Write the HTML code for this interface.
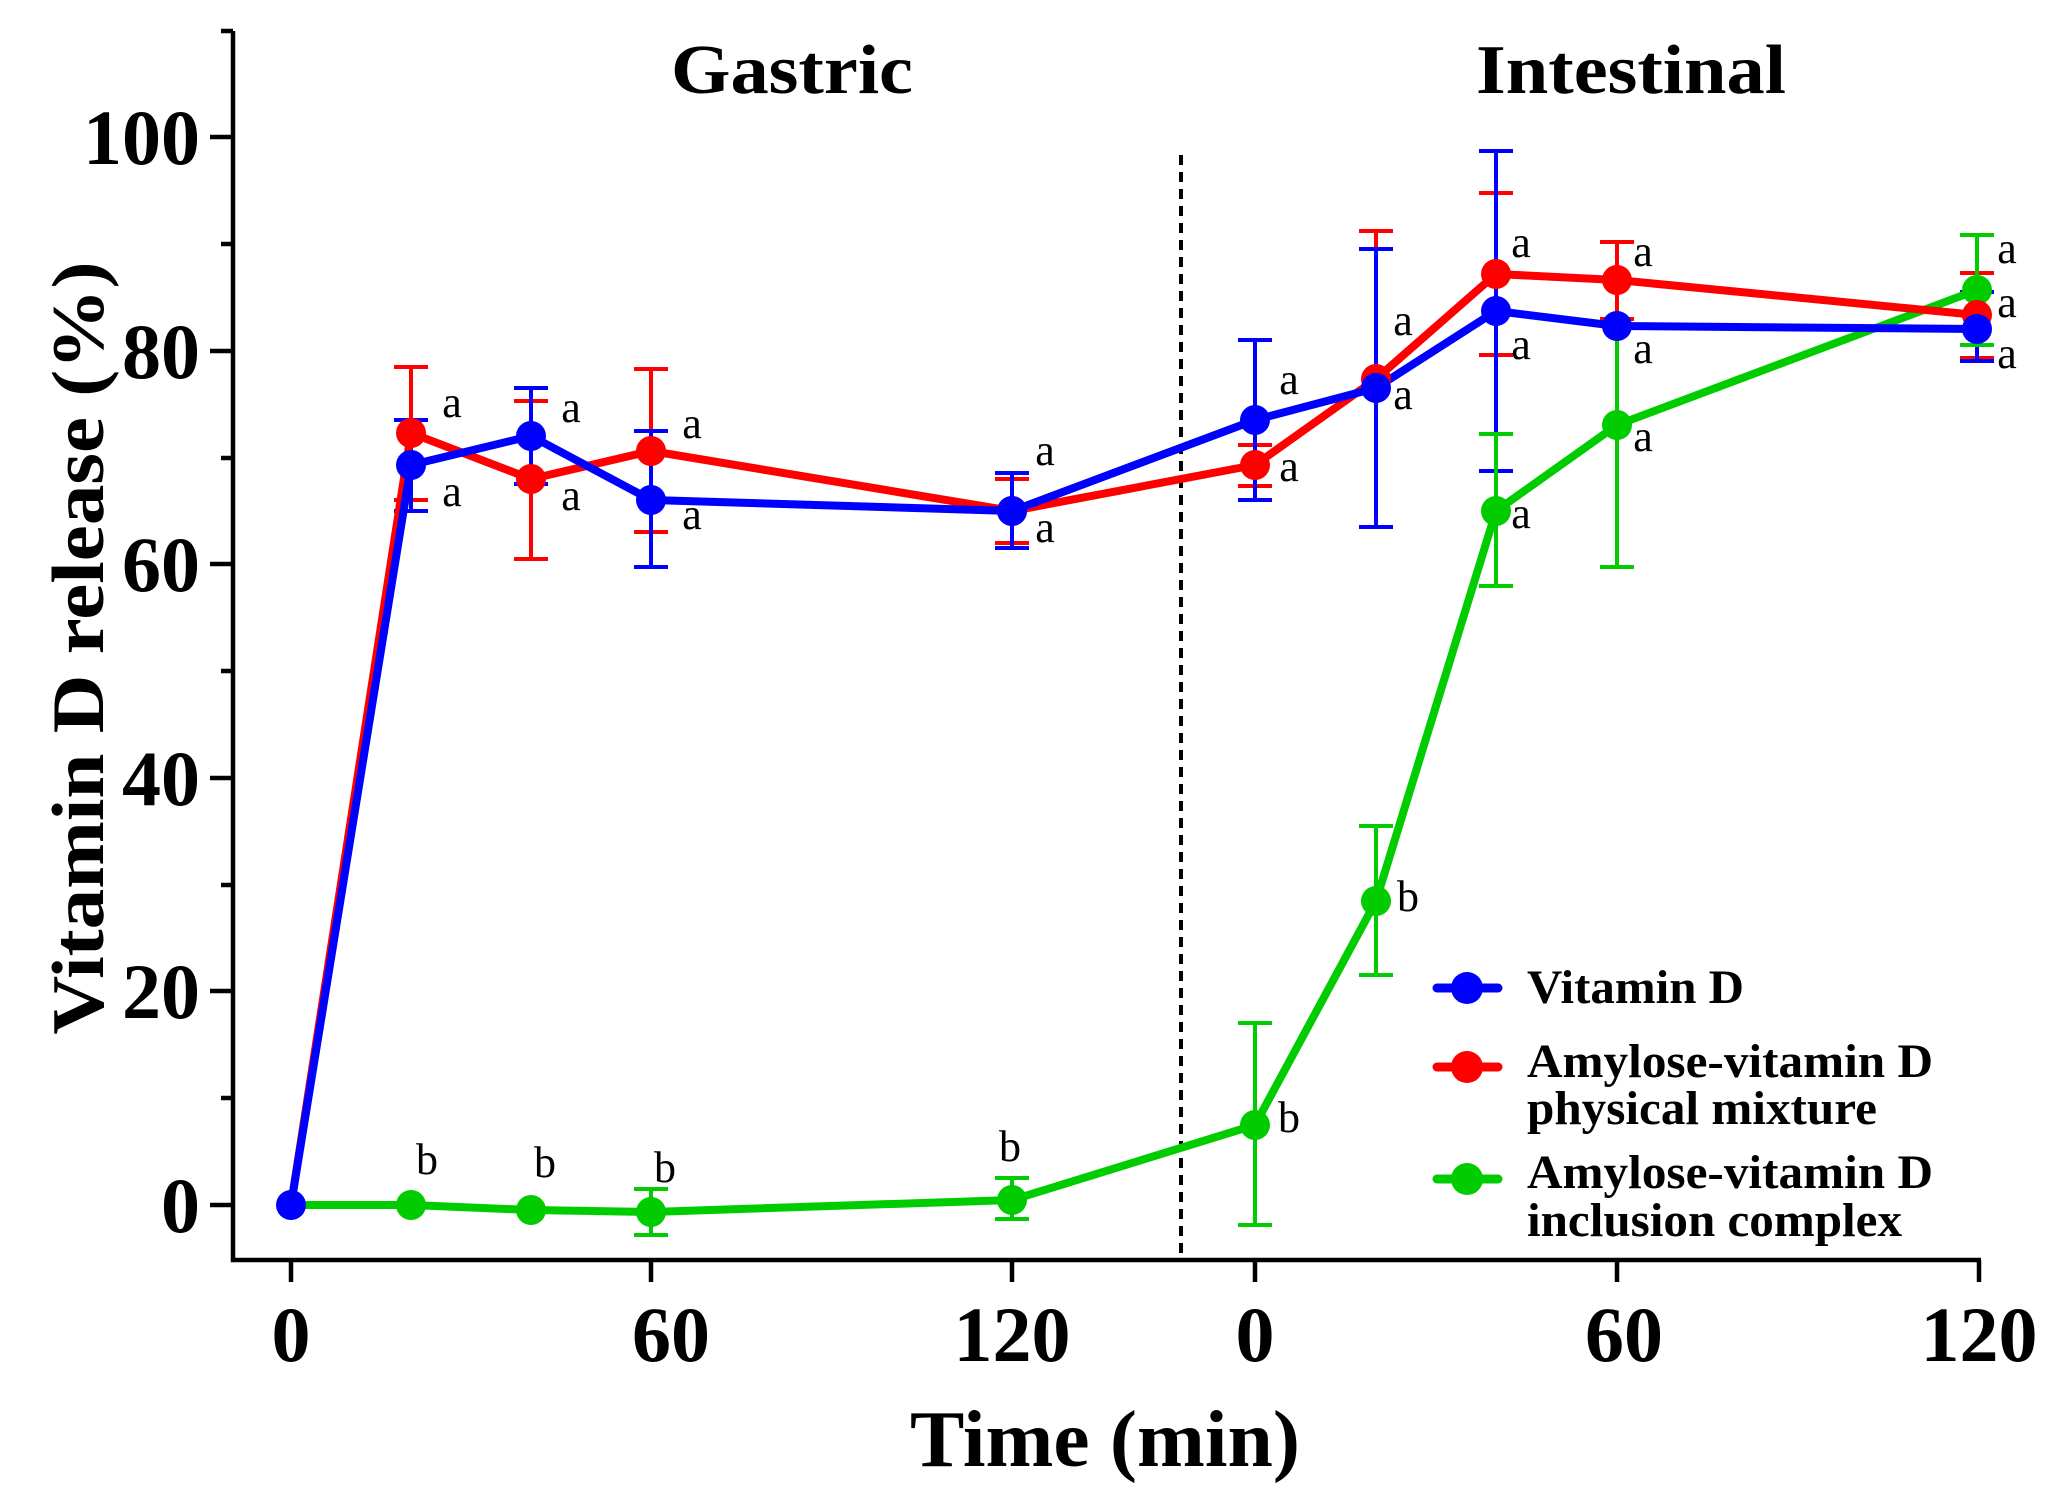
<!DOCTYPE html>
<html><head><meta charset="utf-8"><style>html,body{margin:0;padding:0;background:#fff}svg{display:block}</style></head>
<body>
<svg width="2054" height="1507" viewBox="0 0 2054 1507" xmlns="http://www.w3.org/2000/svg" font-family="Liberation Serif, serif">
<rect width="2054" height="1507" fill="#fff"/>
<!-- axes -->
<g stroke="#000" stroke-width="4.5" fill="none">
<path d="M233 31 V1260 H1981"/>
<path d="M210 1205H233 M210 991H233 M210 778H233 M210 564H233 M210 351H233 M210 137H233"/>
<path d="M221 1098H233 M221 885H233 M221 671H233 M221 458H233 M221 244H233 M221 31H233"/>
<path d="M291 1260V1282 M651 1260V1282 M1012 1260V1282 M1255 1260V1282 M1617 1260V1282 M1979 1260V1282"/>
</g>
<line x1="1181" y1="155" x2="1181" y2="1258" stroke="#000" stroke-width="4" stroke-dasharray="10,7"/>
<g font-weight="bold" font-size="78" text-anchor="end">
<text x="200" y="1232">0</text><text x="200" y="1018">20</text><text x="200" y="805">40</text>
<text x="200" y="591">60</text><text x="200" y="378">80</text><text x="200" y="164">100</text>
</g>
<g font-weight="bold" font-size="78" text-anchor="middle">
<text x="291" y="1361">0</text><text x="671" y="1361">60</text><text x="1012" y="1361">120</text>
<text x="1255" y="1361">0</text><text x="1624" y="1361">60</text><text x="1979" y="1361">120</text>
</g>
<text x="1105" y="1466" font-weight="bold" font-size="80" text-anchor="middle" textLength="390" lengthAdjust="spacingAndGlyphs">Time (min)</text>
<text transform="translate(103,648) rotate(-90)" font-weight="bold" font-size="74" text-anchor="middle" textLength="773" lengthAdjust="spacingAndGlyphs">Vitamin D release (%)</text>
<text x="792" y="93" font-weight="bold" font-size="70" text-anchor="middle" textLength="242" lengthAdjust="spacingAndGlyphs">Gastric</text>
<text x="1631" y="93" font-weight="bold" font-size="70" text-anchor="middle" textLength="310" lengthAdjust="spacingAndGlyphs">Intestinal</text>

<!-- error bars -->
<g stroke="#f00" stroke-width="4" fill="none">
<path d="M411 500V367 M394 500H428 M394 367H428"/>
<path d="M531 559V401 M514 559H548 M514 401H548"/>
<path d="M651 532V369 M634 532H668 M634 369H668"/>
<path d="M1012 543V479 M995 543H1029 M995 479H1029"/>
<path d="M1255 486V445 M1238 486H1272 M1238 445H1272"/>
<path d="M1376 527V231 M1359 527H1393 M1359 231H1393"/>
<path d="M1496 355V193 M1479 355H1513 M1479 193H1513"/>
<path d="M1617 319V242 M1600 319H1634 M1600 242H1634"/>
<path d="M1977 358V273 M1960 358H1994 M1960 273H1994"/>
</g>
<g stroke="#00f" stroke-width="4" fill="none">
<path d="M411 511V420 M394 511H428 M394 420H428"/>
<path d="M531 484V388 M514 484H548 M514 388H548"/>
<path d="M651 567V431 M634 567H668 M634 431H668"/>
<path d="M1012 548V473 M995 548H1029 M995 473H1029"/>
<path d="M1255 500V340 M1238 500H1272 M1238 340H1272"/>
<path d="M1376 527V249 M1359 527H1393 M1359 249H1393"/>
<path d="M1496 471V151 M1479 471H1513 M1479 151H1513"/>
<path d="M1977 361V292 M1960 361H1994 M1960 292H1994"/>
</g>
<g stroke="#0c0" stroke-width="4" fill="none">
<path d="M651 1235V1189 M634 1235H668 M634 1189H668"/>
<path d="M1012 1219V1178 M995 1219H1029 M995 1178H1029"/>
<path d="M1255 1225V1023 M1238 1225H1272 M1238 1023H1272"/>
<path d="M1376 975V826 M1359 975H1393 M1359 826H1393"/>
<path d="M1496 586V434 M1479 586H1513 M1479 434H1513"/>
<path d="M1617 567V329 M1600 567H1634"/>
<path d="M1977 345V235 M1960 345H1994 M1960 235H1994"/>
</g>
<!-- series -->
<g fill="none" stroke-width="8" stroke-linejoin="round">
<polyline stroke="#0c0" points="291,1205 411,1205 531,1210 651,1212 1012,1200 1255,1125 1376,901 1496,511 1617,425 1977,290"/>
<polyline stroke="#f00" points="291,1205 411,433 531,479 651,451 1012,511 1255,465 1376,379 1496,274 1617,280 1977,315"/>
<polyline stroke="#00f" points="291,1205 411,465 531,436 651,500 1012,511 1255,420 1376,388 1496,311 1617,326 1977,329"/>
</g>
<g fill="#0c0">
<circle cx="411" cy="1205" r="15"/><circle cx="531" cy="1210" r="15"/><circle cx="651" cy="1212" r="15"/><circle cx="1012" cy="1200" r="15"/><circle cx="1255" cy="1125" r="15"/><circle cx="1376" cy="901" r="15"/><circle cx="1496" cy="511" r="15"/><circle cx="1617" cy="425" r="15"/><circle cx="1977" cy="290" r="15"/>
</g>
<g fill="#f00">
<circle cx="411" cy="433" r="15"/><circle cx="531" cy="479" r="15"/><circle cx="651" cy="451" r="15"/><circle cx="1012" cy="511" r="15"/><circle cx="1255" cy="465" r="15"/><circle cx="1376" cy="379" r="15"/><circle cx="1496" cy="274" r="15"/><circle cx="1617" cy="280" r="15"/><circle cx="1977" cy="315" r="15"/>
</g>
<g fill="#00f">
<circle cx="291" cy="1205" r="15"/><circle cx="411" cy="465" r="15"/><circle cx="531" cy="436" r="15"/><circle cx="651" cy="500" r="15"/><circle cx="1012" cy="511" r="15"/><circle cx="1255" cy="420" r="15"/><circle cx="1376" cy="388" r="15"/><circle cx="1496" cy="311" r="15"/><circle cx="1617" cy="326" r="15"/><circle cx="1977" cy="329" r="15"/>
</g>
<!-- significance letters -->
<g font-size="44" text-anchor="middle" dominant-baseline="middle">
<text x="452" y="407">a</text><text x="452" y="496">a</text><text x="427" y="1164">b</text>
<text x="571" y="412">a</text><text x="571" y="500">a</text><text x="545" y="1167">b</text>
<text x="692" y="428">a</text><text x="692" y="519">a</text><text x="665" y="1172">b</text>
<text x="1045" y="455">a</text><text x="1045" y="532">a</text><text x="1010" y="1151">b</text>
<text x="1289" y="384">a</text><text x="1289" y="471">a</text><text x="1289" y="1122">b</text>
<text x="1403" y="325">a</text><text x="1403" y="399">a</text><text x="1408" y="901">b</text>
<text x="1521" y="247">a</text><text x="1521" y="349">a</text><text x="1521" y="518">a</text>
<text x="1643" y="256">a</text><text x="1643" y="353">a</text><text x="1643" y="441">a</text>
<text x="2007" y="253">a</text><text x="2007" y="307">a</text><text x="2007" y="358">a</text>
</g>
<!-- legend -->
<g stroke-width="9" stroke-linecap="round">
<line x1="1437" y1="988" x2="1498" y2="988" stroke="#00f"/>
<line x1="1437" y1="1067" x2="1498" y2="1067" stroke="#f00"/>
<line x1="1437" y1="1179" x2="1498" y2="1179" stroke="#0c0"/>
</g>
<circle cx="1467" cy="988" r="16" fill="#00f"/>
<circle cx="1467" cy="1067" r="16" fill="#f00"/>
<circle cx="1467" cy="1179" r="16" fill="#0c0"/>
<g font-weight="bold" font-size="48">
<text x="1527" y="1003" textLength="217" lengthAdjust="spacingAndGlyphs">Vitamin D</text>
<text x="1527" y="1077" textLength="406" lengthAdjust="spacingAndGlyphs">Amylose-vitamin D</text>
<text x="1527" y="1124" textLength="350" lengthAdjust="spacingAndGlyphs">physical mixture</text>
<text x="1527" y="1188" textLength="406" lengthAdjust="spacingAndGlyphs">Amylose-vitamin D</text>
<text x="1527" y="1236" textLength="375" lengthAdjust="spacingAndGlyphs">inclusion complex</text>
</g>
</svg>
</body></html>
